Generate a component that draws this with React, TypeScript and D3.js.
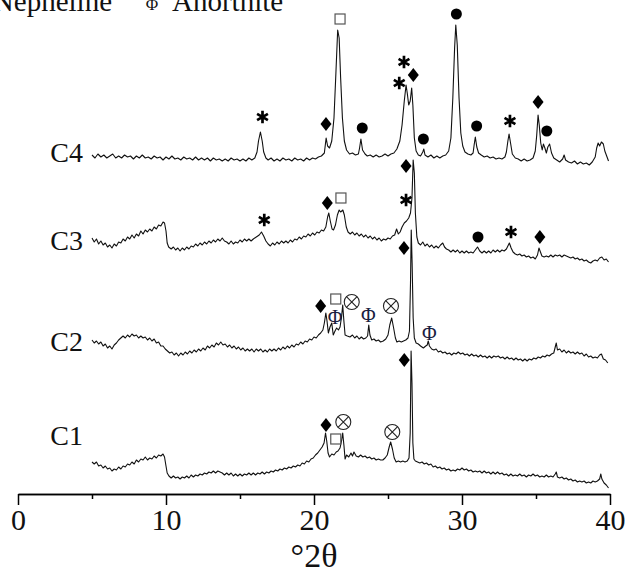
import { useEffect, useRef } from "react";
import * as d3 from "d3";

const W = 626;
const H = 568;

type Pt = [number, number];

const xTicks = [0, 10, 20, 30, 40];
const xMinorTicks = [5, 15, 25, 35];
const sampleNames = ["C1", "C2", "C3", "C4"];

// C4 pattern (2θ, counts in arbitrary units)
const c4: Pt[] = [
  [5.0,338],[5.2,335],[5.4,339],[5.6,336],[5.8,338],[6.0,335],[6.2,337],[6.4,339],[6.6,335],[6.8,337],
  [7.0,335],[7.2,338],[7.4,336],[7.6,337],[7.8,334],[8.0,337],[8.2,335],[8.4,338],[8.6,335],[8.8,336],
  [9.0,334],[9.2,337],[9.4,335],[9.6,336],[9.8,333],[10.0,336],[10.2,334],[10.4,337],[10.6,334],[10.8,335],
  [11.0,333],[11.2,336],[11.4,334],[11.6,335],[11.8,333],[12.0,336],[12.2,333],[12.4,335],[12.6,333],[12.8,335],
  [13.0,332],[13.2,335],[13.4,333],[13.6,334],[13.8,332],[14.0,334],[14.2,332],[14.4,335],[14.6,333],[14.8,334],
  [15.0,332],[15.2,334],[15.4,332],[15.6,335],[15.8,333],[16.0,335],[16.15,341],[16.25,352],[16.38,361],[16.5,352],
  [16.6,341],[16.75,335],[16.9,333],[17.1,335],[17.3,332],[17.5,334],[17.7,332],[17.9,335],[18.1,333],[18.3,334],
  [18.5,332],[18.7,335],[18.9,333],[19.1,334],[19.3,332],[19.5,335],[19.7,333],[19.9,335],[20.1,334],[20.3,336],
  [20.5,337],[20.7,340],[20.82,355],[20.92,347],[21.05,345],[21.2,352],[21.35,375],[21.48,420],[21.6,463],[21.7,455],
  [21.8,415],[21.92,375],[22.05,352],[22.2,343],[22.4,339],[22.6,340],[22.8,338],[23.0,339],[23.08,345],[23.17,354],
  [23.28,343],[23.45,339],[23.6,337],[23.8,338],[24.0,336],[24.2,338],[24.4,336],[24.6,337],[24.8,339],[25.0,337],
  [25.2,339],[25.4,340],[25.6,344],[25.8,352],[25.95,368],[26.1,392],[26.22,408],[26.3,400],[26.4,388],[26.5,392],
  [26.6,405],[26.68,388],[26.78,355],[26.9,342],[27.05,338],[27.2,337],[27.35,341],[27.42,344],[27.5,338],[27.7,336],
  [27.9,338],[28.1,335],[28.3,337],[28.5,335],[28.7,337],[28.9,338],[29.1,342],[29.25,355],[29.38,395],[29.5,445],
  [29.58,468],[29.68,448],[29.8,395],[29.92,360],[30.05,347],[30.2,341],[30.4,339],[30.6,338],[30.75,340],[30.82,348],
  [30.9,356],[31.0,346],[31.12,340],[31.3,338],[31.5,336],[31.7,337],[31.9,335],[32.1,336],[32.3,334],[32.5,335],
  [32.7,334],[32.9,336],[33.0,341],[33.1,352],[33.18,359],[33.28,350],[33.4,339],[33.6,335],[33.8,334],[34.0,332],
  [34.2,334],[34.4,332],[34.6,333],[34.8,335],[34.95,342],[35.05,358],[35.14,378],[35.22,368],[35.32,350],[35.42,343],
  [35.5,349],[35.6,345],[35.7,340],[35.8,346],[35.92,349],[36.05,340],[36.2,335],[36.4,333],[36.6,331],[36.8,334],
  [36.9,338],[37.0,333],[37.2,331],[37.4,330],[37.6,332],[37.8,329],[38.0,331],[38.2,329],[38.4,330],[38.6,328],
  [38.8,331],[39.0,336],[39.1,345],[39.2,350],[39.3,347],[39.42,351],[39.55,349],[39.65,342],[39.8,336],[39.9,332],
];

const c3: Pt[] = [
  [5.0,255],[5.15,251],[5.3,254],[5.45,249],[5.6,252],[5.75,248],[5.9,250],[6.05,246],[6.2,248],[6.35,245],
  [6.5,249],[6.65,247],[6.8,251],[6.95,250],[7.1,254],[7.25,252],[7.4,256],[7.55,254],[7.7,258],[7.85,255],
  [8.0,259],[8.15,257],[8.3,262],[8.45,259],[8.6,263],[8.75,261],[8.9,264],[9.05,262],[9.2,266],[9.35,264],
  [9.5,268],[9.65,267],[9.8,271],[9.9,270],[10.0,262],[10.08,250],[10.18,246],[10.35,244],[10.5,246],[10.65,243],
  [10.8,245],[10.95,242],[11.1,245],[11.25,243],[11.4,246],[11.55,244],[11.7,247],[11.85,246],[12.0,249],[12.15,247],
  [12.3,250],[12.45,248],[12.6,251],[12.75,249],[12.9,252],[13.05,250],[13.2,253],[13.35,251],[13.5,254],[13.65,252],
  [13.8,255],[13.95,252],[14.1,251],[14.25,249],[14.4,252],[14.55,249],[14.7,251],[14.85,250],[15.0,253],[15.15,251],
  [15.3,254],[15.45,252],[15.6,254],[15.75,252],[15.9,254],[16.1,256],[16.3,258],[16.45,261],[16.6,257],[16.75,252],
  [16.9,249],[17.05,247],[17.2,250],[17.35,248],[17.5,251],[17.65,249],[17.8,252],[17.95,250],[18.1,252],[18.25,250],
  [18.4,253],[18.55,251],[18.7,254],[18.85,253],[19.0,256],[19.15,254],[19.3,257],[19.45,256],[19.6,259],[19.75,257],
  [19.9,260],[20.05,258],[20.2,261],[20.35,260],[20.5,263],[20.65,262],[20.8,266],[20.92,276],[21.0,280],[21.1,272],
  [21.22,264],[21.32,263],[21.45,268],[21.58,278],[21.7,283],[21.8,281],[21.95,283],[22.05,278],[22.18,266],[22.3,261],
  [22.45,259],[22.6,261],[22.75,258],[22.9,260],[23.05,257],[23.2,259],[23.35,256],[23.5,258],[23.65,255],[23.8,257],
  [23.95,254],[24.1,256],[24.25,253],[24.4,255],[24.55,252],[24.7,254],[24.85,253],[25.0,255],[25.15,254],[25.3,257],
  [25.45,258],[25.58,264],[25.7,259],[25.82,261],[25.95,266],[26.1,270],[26.25,272],[26.4,275],[26.52,280],[26.62,295],
  [26.7,333],[26.78,320],[26.85,280],[26.95,256],[27.05,250],[27.2,248],[27.35,251],[27.5,247],[27.65,249],[27.8,246],
  [27.95,248],[28.1,245],[28.25,247],[28.4,245],[28.55,248],[28.7,250],[28.82,246],[28.95,244],[29.1,243],[29.25,241],
  [29.4,243],[29.55,241],[29.7,243],[29.85,240],[30.0,242],[30.15,240],[30.3,242],[30.45,240],[30.6,241],[30.75,240],
  [30.9,243],[31.05,246],[31.2,242],[31.35,240],[31.5,242],[31.65,240],[31.8,242],[31.95,240],[32.1,243],[32.25,241],
  [32.4,243],[32.55,241],[32.7,243],[32.85,242],[33.0,244],[33.1,247],[33.2,250],[33.32,245],[33.45,241],[33.6,239],
  [33.75,238],[33.9,239],[34.05,237],[34.2,238],[34.35,236],[34.5,237],[34.65,235],[34.8,236],[34.95,234],[35.1,238],
  [35.2,245],[35.3,241],[35.4,237],[35.55,236],[35.7,237],[35.85,236],[36.0,238],[36.15,236],[36.3,238],[36.45,237],
  [36.6,238],[36.75,236],[36.9,238],[37.05,237],[37.2,236],[37.35,235],[37.5,236],[37.65,234],[37.8,235],[37.95,233],
  [38.1,234],[38.25,232],[38.4,233],[38.55,231],[38.7,230],[38.85,232],[39.0,233],[39.15,232],[39.3,235],[39.45,236],
  [39.6,233],[39.75,234],[39.9,231],
];

const c2: Pt[] = [
  [5.0,153],[5.15,150],[5.3,152],[5.45,149],[5.6,151],[5.75,147],[5.9,149],[6.05,145],[6.2,147],[6.35,144],
  [6.5,148],[6.65,150],[6.8,153],[6.95,155],[7.1,157],[7.25,155],[7.4,158],[7.55,156],[7.7,159],[7.85,157],
  [8.0,158],[8.15,155],[8.3,157],[8.45,155],[8.6,156],[8.75,153],[8.9,155],[9.05,152],[9.2,154],[9.35,150],
  [9.5,151],[9.65,147],[9.8,147],[9.95,144],[10.1,142],[10.25,140],[10.4,141],[10.55,138],[10.7,140],[10.85,137],
  [11.0,140],[11.15,138],[11.3,141],[11.45,139],[11.6,142],[11.75,140],[11.9,143],[12.05,141],[12.2,144],[12.35,142],
  [12.5,145],[12.65,143],[12.8,147],[12.95,145],[13.1,148],[13.25,146],[13.4,150],[13.55,148],[13.7,151],[13.85,148],
  [14.0,149],[14.15,146],[14.3,148],[14.45,145],[14.6,147],[14.75,144],[14.9,146],[15.05,143],[15.2,145],[15.35,142],
  [15.5,144],[15.65,142],[15.8,144],[15.95,141],[16.1,144],[16.25,142],[16.4,144],[16.55,141],[16.7,143],[16.85,141],
  [17.0,144],[17.15,142],[17.3,144],[17.45,142],[17.6,145],[17.75,143],[17.9,146],[18.05,144],[18.2,147],[18.35,145],
  [18.5,148],[18.65,146],[18.8,149],[18.95,148],[19.1,151],[19.25,149],[19.4,152],[19.55,151],[19.7,154],[19.85,153],
  [20.0,156],[20.15,155],[20.3,158],[20.45,160],[20.6,163],[20.7,170],[20.8,180],[20.88,172],[20.97,160],[21.08,166],
  [21.2,170],[21.3,158],[21.42,162],[21.53,165],[21.65,163],[21.76,166],[21.86,176],[21.94,188],[22.02,172],[22.1,158],
  [22.25,157],[22.43,156],[22.6,158],[22.75,155],[22.9,157],[23.05,154],[23.2,156],[23.35,154],[23.5,155],[23.62,157],
  [23.7,168],[23.78,158],[23.9,153],[24.05,154],[24.2,152],[24.35,153],[24.5,151],[24.68,152],[24.85,154],[25.0,158],
  [25.12,168],[25.25,175],[25.38,165],[25.5,155],[25.6,151],[25.75,152],[25.9,151],[26.05,152],[26.2,153],[26.35,155],
  [26.45,162],[26.52,210],[26.57,263],[26.63,230],[26.7,175],[26.78,155],[26.9,150],[27.05,149],[27.2,147],[27.39,145],
  [27.55,147],[27.65,148],[27.72,152],[27.8,147],[27.95,144],[28.1,143],[28.25,144],[28.4,141],[28.55,142],[28.7,140],
  [28.85,141],[29.0,139],[29.15,140],[29.3,138],[29.45,140],[29.6,139],[29.75,141],[29.9,139],[30.05,140],[30.2,138],
  [30.35,139],[30.5,137],[30.65,139],[30.8,137],[30.95,138],[31.1,136],[31.25,138],[31.4,136],[31.55,137],[31.7,135],
  [31.85,137],[32.0,135],[32.15,137],[32.3,136],[32.45,137],[32.6,135],[32.75,136],[32.9,134],[33.05,136],[33.2,134],
  [33.35,135],[33.5,133],[33.65,135],[33.8,133],[33.95,134],[34.1,132],[34.25,134],[34.4,132],[34.55,134],[34.7,133],
  [34.85,135],[35.0,134],[35.15,136],[35.3,135],[35.45,137],[35.6,136],[35.75,138],[35.9,137],[36.05,139],[36.2,140],
  [36.3,146],[36.37,150],[36.45,143],[36.6,144],[36.75,141],[36.9,143],[37.05,140],[37.2,142],[37.35,140],[37.5,141],
  [37.65,139],[37.8,141],[37.95,139],[38.1,140],[38.25,137],[38.4,139],[38.55,136],[38.7,137],[38.85,135],[39.0,136],
  [39.15,135],[39.3,138],[39.42,139],[39.55,134],[39.7,133],[39.85,130],
];

const c1: Pt[] = [
  [5.0,31],[5.15,29],[5.3,31],[5.45,27],[5.6,28],[5.75,25],[5.9,27],[6.05,24],[6.2,25],[6.35,22],
  [6.5,24],[6.65,23],[6.8,26],[6.95,24],[7.1,27],[7.25,26],[7.4,29],[7.55,28],[7.7,31],[7.85,29],
  [8.0,33],[8.15,31],[8.3,34],[8.45,33],[8.6,36],[8.75,33],[8.9,35],[9.05,34],[9.2,37],[9.35,35],
  [9.5,38],[9.65,37],[9.8,39],[9.9,36],[10.0,27],[10.08,20],[10.2,17],[10.35,15],[10.5,17],[10.65,15],
  [10.8,16],[10.95,14],[11.1,16],[11.25,15],[11.4,17],[11.55,15],[11.7,18],[11.85,16],[12.0,18],[12.15,17],
  [12.3,19],[12.45,18],[12.6,20],[12.75,19],[12.9,21],[13.05,20],[13.2,22],[13.35,20],[13.5,22],[13.65,21],
  [13.8,20],[13.95,18],[14.1,20],[14.25,18],[14.4,20],[14.55,17],[14.7,19],[14.85,17],[15.0,19],[15.15,17],
  [15.3,19],[15.45,18],[15.6,20],[15.75,18],[15.9,20],[16.05,18],[16.2,20],[16.35,19],[16.5,21],[16.65,19],
  [16.8,21],[16.95,20],[17.1,22],[17.25,21],[17.4,23],[17.55,22],[17.7,24],[17.85,23],[18.0,25],[18.15,24],
  [18.3,26],[18.45,25],[18.6,27],[18.75,26],[18.9,28],[19.05,27],[19.2,30],[19.35,29],[19.5,32],[19.65,31],
  [19.8,34],[19.95,35],[20.1,38],[20.25,40],[20.4,43],[20.55,46],[20.68,50],[20.78,60],[20.86,52],[20.95,40],
  [21.05,36],[21.2,39],[21.35,38],[21.5,41],[21.62,42],[21.76,45],[21.86,52],[21.94,60],[22.02,48],[22.1,34],
  [22.2,38],[22.35,36],[22.5,40],[22.6,37],[22.7,41],[22.85,37],[23.0,36],[23.15,38],[23.3,36],[23.45,37],
  [23.6,35],[23.75,36],[23.9,34],[24.05,35],[24.2,33],[24.35,34],[24.5,33],[24.65,33],[24.8,35],[24.95,38],
  [25.08,46],[25.18,51],[25.3,44],[25.42,35],[25.55,31],[25.7,32],[25.85,31],[26.0,32],[26.15,31],[26.3,32],
  [26.42,35],[26.5,60],[26.56,142],[26.62,110],[26.68,50],[26.75,34],[26.85,32],[27.0,31],[27.15,30],[27.3,31],
  [27.45,29],[27.6,30],[27.75,28],[27.9,29],[28.05,26],[28.2,27],[28.35,25],[28.5,26],[28.65,24],[28.8,25],
  [28.95,23],[29.1,24],[29.25,22],[29.4,23],[29.55,22],[29.7,24],[29.85,23],[30.0,25],[30.15,23],[30.3,24],
  [30.45,22],[30.6,23],[30.75,21],[30.9,22],[31.05,21],[31.2,22],[31.35,20],[31.5,22],[31.65,20],[31.8,21],
  [31.95,19],[32.1,21],[32.25,19],[32.4,21],[32.55,19],[32.7,20],[32.85,18],[33.0,19],[33.15,17],[33.3,19],
  [33.45,17],[33.6,18],[33.75,17],[33.9,19],[34.05,17],[34.2,18],[34.35,16],[34.5,18],[34.65,17],[34.8,19],
  [34.95,17],[35.1,18],[35.25,16],[35.4,17],[35.55,16],[35.7,18],[35.85,16],[36.0,17],[36.15,16],[36.3,19],
  [36.37,21],[36.45,16],[36.6,15],[36.75,16],[36.9,14],[37.05,15],[37.2,13],[37.35,14],[37.5,12],[37.65,13],
  [37.8,11],[37.95,12],[38.1,11],[38.25,12],[38.4,10],[38.55,11],[38.7,10],[38.85,12],[39.0,11],[39.15,12],
  [39.3,14],[39.38,19],[39.45,14],[39.6,10],[39.75,8],[39.9,5],
];

// phase marks: [2θ, level]
const diamondMarks: Pt[] = [
  [20.81,369],[26.71,418],[35.14,391],
  [20.9,290],[26.22,327],[35.26,256],
  [20.45,187],[26.08,245],
  [20.81,68],[26.1,133],
];
const dotMarks: Pt[] = [
  [23.26,365],[27.39,354],[29.62,479],[30.99,367],[35.73,362],
  [31.08,256],
];
const squareMarks: Pt[] = [[21.76,474],[21.82,295],[21.47,194],[21.47,54]];
const starMarks: Pt[] = [
  [16.52,376],[25.76,410],[26.08,431],[33.24,372],
  [16.64,273],[26.22,293],[33.31,261],
];
const otimesMarks: Pt[] = [[22.55,191],[25.2,187],[21.98,71],[25.29,61]];
const phiMarks: Pt[] = [[21.42,176],[23.67,178],[27.79,160]];

const serif = "'Liberation Serif', 'Times New Roman', serif";

export default function App() {
  const svgRef = useRef<SVGSVGElement>(null);

  useEffect(() => {
    const svg = d3.select(svgRef.current);
    svg.selectAll("*").remove();

    const x = d3.scaleLinear().domain([0, 40]).range([18, 610]);
    const y = d3.scaleLinear().domain([0, 493]).range([493, 0]);

    // legend remnant at the top
    const leg = svg.append("g").attr("font-family", serif).attr("fill", "#111");
    leg.append("text").attr("x", 112).attr("y", 11).attr("font-size", 29)
      .attr("text-anchor", "end").text("Nepheline");
    leg.append("text").attr("x", 152).attr("y", 10).attr("font-size", 17)
      .attr("text-anchor", "middle").text("Φ");
    leg.append("text").attr("x", 172).attr("y", 11).attr("font-size", 29).text("Anorthite");

    // traces
    const line = d3.line<Pt>().x((d) => x(d[0])).y((d) => y(d[1]));
    const traces = [c1, c2, c3, c4];
    svg.append("g")
      .selectAll("path")
      .data(traces)
      .join("path")
      .attr("d", (d) => line(d))
      .attr("fill", "none")
      .attr("stroke", "#111")
      .attr("stroke-width", 1.1)
      .attr("stroke-linejoin", "round");

    // sample labels
    const labelAt = [48, 142, 243, 331];
    svg.append("g")
      .attr("font-family", serif)
      .attr("font-size", 28)
      .attr("fill", "#111")
      .attr("text-anchor", "end")
      .selectAll("text")
      .data(sampleNames)
      .join("text")
      .attr("x", 83)
      .attr("y", (_, i) => y(labelAt[i]))
      .text((d) => d);

    // markers
    const marks = svg.append("g");
    marks.selectAll(".dia").data(diamondMarks).join("path")
      .attr("transform", (d) => `translate(${x(d[0])},${y(d[1])})`)
      .attr("d", "M0,-7L5.5,0L0,7L-5.5,0Z")
      .attr("fill", "#000");
    marks.selectAll(".dot").data(dotMarks).join("circle")
      .attr("cx", (d) => x(d[0])).attr("cy", (d) => y(d[1]))
      .attr("r", 5.5).attr("fill", "#000");
    marks.selectAll(".sq").data(squareMarks).join("rect")
      .attr("x", (d) => x(d[0]) - 5).attr("y", (d) => y(d[1]) - 5)
      .attr("width", 10).attr("height", 10)
      .attr("fill", "#fff").attr("stroke", "#555").attr("stroke-width", 1.2);
    const star = d3.symbol().type(d3.symbolAsterisk).size(110);
    marks.selectAll(".star").data(starMarks).join("path")
      .attr("transform", (d) => `translate(${x(d[0])},${y(d[1])})`)
      .attr("d", star() as string)
      .attr("fill", "none").attr("stroke", "#000").attr("stroke-width", 2.7);
    const ot = marks.selectAll(".ot").data(otimesMarks).join("g")
      .attr("transform", (d) => `translate(${x(d[0])},${y(d[1])})`)
      .attr("fill", "none").attr("stroke", "#222").attr("stroke-width", 1.1);
    ot.append("circle").attr("r", 7.5).attr("fill", "#fff");
    ot.append("path").attr("d", "M-5.3,-5.3L5.3,5.3M5.3,-5.3L-5.3,5.3");
    marks.selectAll(".phi").data(phiMarks).join("text")
      .attr("x", (d) => x(d[0])).attr("y", (d) => y(d[1]))
      .attr("dy", "0.35em")
      .attr("text-anchor", "middle")
      .attr("font-family", serif).attr("font-size", 20)
      .attr("fill", "#1a2040")
      .text("Φ");

    // x axis
    const axisG = svg.append("g").attr("transform", `translate(0,${y(0) + 1})`);
    axisG.call(
      d3.axisBottom(x).tickValues(xTicks).tickSize(11).tickSizeOuter(0).tickPadding(4)
        .tickFormat((d) => String(d))
    );
    axisG.append("g").call(
      d3.axisBottom(x).tickValues(xMinorTicks).tickSize(5).tickSizeOuter(0).tickFormat(() => "")
    );
    axisG.selectAll("path.domain").attr("stroke", "#000").attr("stroke-width", 1.6);
    axisG.selectAll(".tick line").attr("stroke", "#000").attr("stroke-width", 1.5);
    axisG.selectAll(".tick text")
      .attr("font-family", serif).attr("font-size", 30).attr("fill", "#111");

    svg.append("text")
      .attr("x", x(20)).attr("y", 567)
      .attr("text-anchor", "middle")
      .attr("font-family", serif).attr("font-size", 34)
      .attr("fill", "#111")
      .text("°2θ");
  }, []);

  return (
    <svg
      ref={svgRef}
      width={W}
      height={H}
      style={{ position: "absolute", left: 0, top: 0, background: "#fff", display: "block" }}
    />
  );
}
